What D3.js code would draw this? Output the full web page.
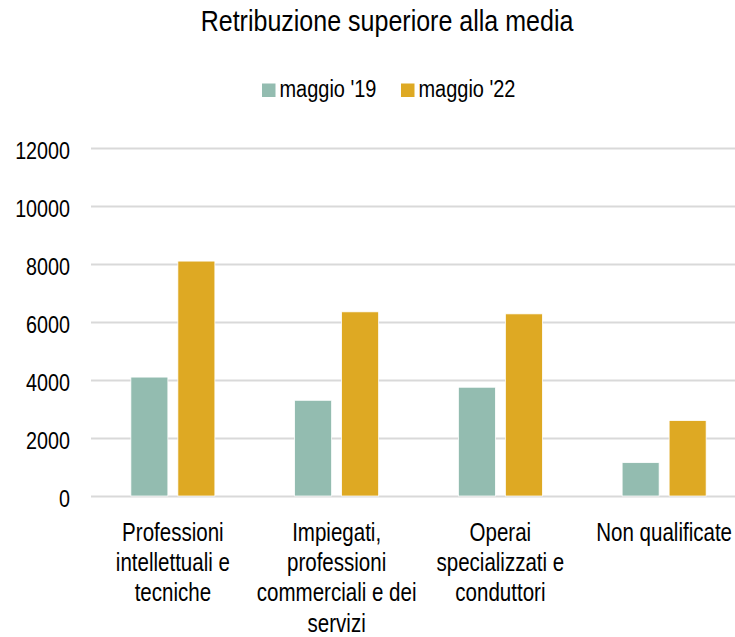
<!DOCTYPE html>
<html><head><meta charset="utf-8">
<script src="https://cdn.jsdelivr.net/npm/d3@7"></script>
<style>
html,body{margin:0;padding:0;background:#fff;}
svg{display:block;}
text{font-family:'Liberation Sans',Arial,sans-serif;fill:#000;}
</style></head>
<body>
<svg id="chart" width="735" height="637"></svg>
<script>
const categories = [
  ["Professioni", "intellettuali e", "tecniche"],
  ["Impiegati,", "professioni", "commerciali e dei", "servizi"],
  ["Operai", "specializzati e", "conduttori"],
  ["Non qualificate"]
];
const categoryNames = categories.map(c => c.join(" "));
const seriesNames = ["maggio '19", "maggio '22"];
const may19 = [4100, 3300, 3750, 1150];
const may22 = [8100, 6350, 6280, 2600];
const yTicks = [0, 2000, 4000, 6000, 8000, 10000, 12000];
const colors = ["#93bcb0", "#dea923"];

const svg = d3.select("#chart");
const x0 = d3.scaleBand().domain(categoryNames).range([91, 746]).padding(0);
const bw = x0.bandwidth();
const x1 = d3.scaleBand().domain(seriesNames).range([(bw - 84) / 2, (bw + 84) / 2]).paddingInner(0.2128).paddingOuter(0);
const y = d3.scaleLinear().domain([0, 12000]).range([496, 148]);

// gridlines + tick labels
const yAxis = d3.axisLeft(y).tickValues(yTicks).tickSize(-(735 - 91)).tickFormat(d => d);
const gY = svg.append("g").attr("transform", "translate(91,0)").call(yAxis);
gY.select(".domain").remove();
gY.selectAll(".tick line").attr("stroke", "#d9d9d9").attr("stroke-width", 2);
const tickScale = 0.84;
gY.selectAll(".tick text")
  .attr("x", null).attr("dy", null)
  .attr("transform", `translate(-21,10.3) scale(${tickScale},1)`)
  .attr("text-anchor", "end")
  .style("font-size", "23.5px").attr("fill", "#000");

// bars
const data = categoryNames.map((c, i) => ({cat: c, vals: [may19[i], may22[i]]}));
const groups = svg.append("g").selectAll("g").data(data).join("g")
  .attr("transform", d => `translate(${x0(d.cat)},0)`);
groups.selectAll("rect").data(d => d.vals.map((v, j) => ({s: seriesNames[j], v, j})))
  .join("rect")
  .attr("x", d => x1(d.s))
  .attr("width", x1.bandwidth())
  .attr("y", d => y(d.v))
  .attr("height", d => y(0) - y(d.v))
  .attr("fill", d => colors[d.j])
  .attr("stroke", "#fff").attr("stroke-width", 0.75);

// x axis labels
const xAxis = d3.axisBottom(x0).tickSize(0).tickFormat("");
const gX = svg.append("g").attr("transform", "translate(0,496)").call(xAxis);
gX.select(".domain").remove();
gX.selectAll(".tick").each(function(d, i) {
  const t = d3.select(this).append("text").attr("text-anchor", "middle")
    .attr("transform", "translate(0,44.7) scale(0.79,1)")
    .style("font-size", "26px");
  categories[i].forEach((line, k) => {
    t.append("tspan").attr("x", 0).attr("y", k * 30.4).text(line);
  });
});

// title
svg.append("text").attr("text-anchor", "middle")
  .attr("transform", "translate(387,30.7) scale(0.863,1)")
  .style("font-size", "29px").text("Retribuzione superiore alla media");

// legend
const legendX = [262, 401];
const lg = svg.append("g").selectAll("g").data(seriesNames).join("g")
  .attr("transform", (d, i) => `translate(${legendX[i]},83.5)`);
lg.append("rect").attr("width", 13.5).attr("height", 13.5).attr("fill", (d, i) => colors[i]);
lg.append("text").attr("transform", "translate(17.5,13.2) scale(0.815,1)")
  .style("font-size", "24.5px").text(d => d);
</script>
</body></html>
